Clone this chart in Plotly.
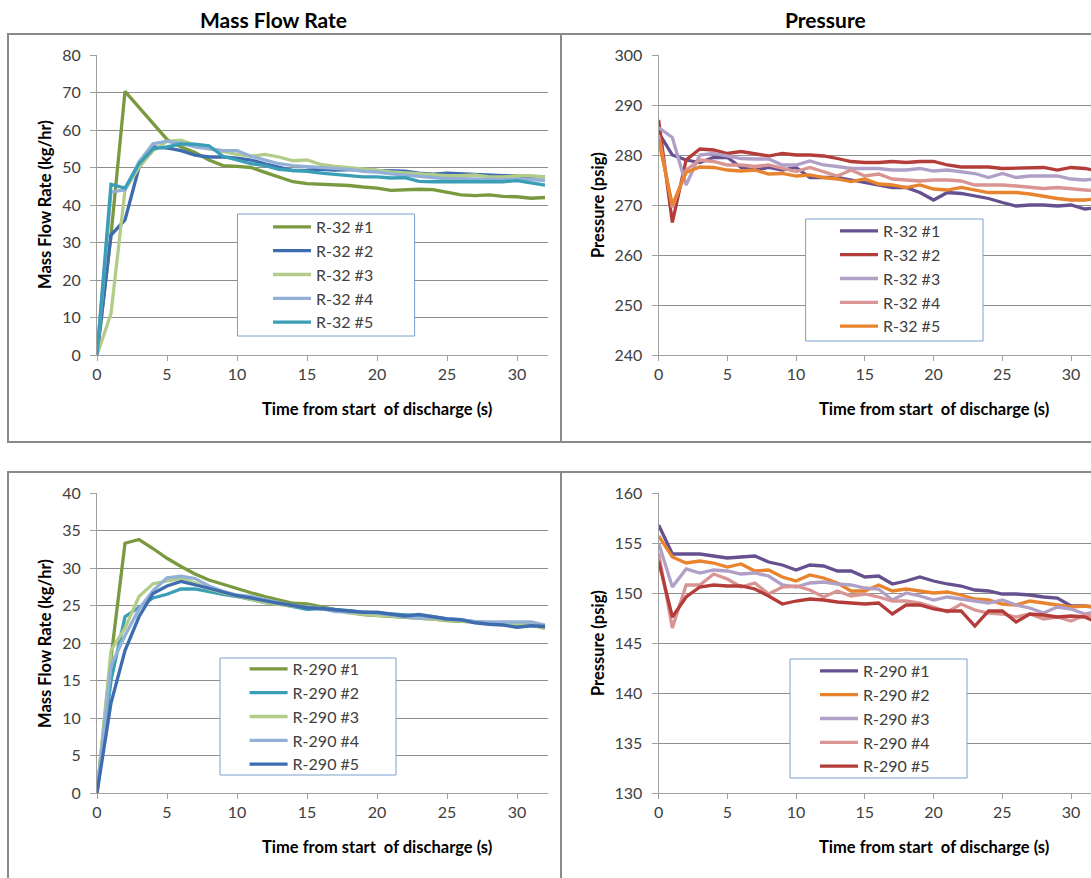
import plotly.graph_objects as go

W, H = 1091, 878

# ---------------- data ----------------
time_s = list(range(33))

# Mass flow rate, R-32 (kg/hr)
mf_r32_1 = [0, 32, 70.3, 66, 61.5, 57.5, 55.5, 54, 52, 50.5, 50.3, 50, 48.7, 47.5, 46.2, 45.7, 45.5,
            45.5, 45.2, 44.8, 44.5, 43.9, 44.1, 44.2, 44.1, 43.4, 42.7, 42.5, 42.7, 42.3, 42.2, 41.8, 42.0]
mf_r32_2 = [0, 32, 36, 50, 55.5, 55.2, 54.5, 53.3, 52.8, 52.8, 52.5, 52, 51, 50, 49.2, 49.3, 49.5,
            49.3, 49.3, 49.5, 49.2, 49, 49, 48.5, 48.2, 48.5, 48.3, 48, 47.8, 47.8, 47.8, 47.5, 47.5]
mf_r32_3 = [0, 11, 44, 50, 54.5, 57, 57.3, 56, 55, 54.2, 53.5, 53, 53.5, 52.8, 51.8, 52, 50.8,
            50.3, 50, 49.5, 49.3, 48.8, 48.5, 48.3, 48, 47.8, 47.8, 48, 47.5, 47.5, 47.8, 47.8, 47.5]
mf_r32_4 = [0, 43.5, 44, 51.5, 56.3, 57, 56.5, 55.5, 55, 54.5, 54.5, 53, 52, 51, 50.5, 50.3, 50,
            49.8, 49.5, 49, 48.8, 48.3, 48, 47.5, 47.2, 47, 47, 46.8, 46.8, 46.8, 46.8, 46.8, 46.5]
mf_r32_5 = [0, 45.5, 44.5, 51, 55, 55.5, 56.3, 56.2, 55.8, 53, 52, 51, 50.5, 49.5, 49.2, 49, 48.5,
            48.2, 48, 47.5, 47.5, 47.2, 47.3, 46.3, 46.2, 46.2, 46, 46, 46, 46.2, 46.5, 45.8, 45.3]

# Pressure, R-32 (psig)
p_r32_1 = [284.5, 280, 279, 278.5, 279.5, 279.5, 277.5, 277, 277.5, 277, 277.5, 275.5, 275.5, 275.5,
           275, 274.5, 274, 273.5, 273.5, 272.5, 271, 272.5, 272.3, 271.8, 271.3, 270.5, 269.8, 270,
           270, 269.8, 270, 269.2, 269.5]
p_r32_2 = [287, 266.5, 279, 281.2, 281, 280.3, 280.7, 280.3, 279.8, 280.3, 280, 280, 279.8, 279.3,
           278.7, 278.5, 278.5, 278.7, 278.5, 278.7, 278.7, 278, 277.6, 277.6, 277.6, 277.3, 277.4,
           277.5, 277.5, 277, 277.5, 277.3, 276.8]
p_r32_3 = [285.5, 283.5, 274, 280, 280.3, 279.8, 279.3, 279.2, 279.2, 278, 278, 278.8, 278, 277.7,
           277.3, 277.3, 277.3, 277, 277, 277.3, 276.8, 277, 276.7, 276.3, 275.5, 276.3, 275.5,
           275.8, 275.8, 275.8, 275.2, 275, 275.3]
p_r32_4 = [284, 269.5, 277, 279, 278.7, 278, 278, 277.7, 278, 277.3, 276.7, 277.5, 276.7, 275.8,
           277, 275.8, 276.2, 275.2, 275, 274.8, 275, 275, 274.8, 274, 274, 274, 273.8, 273.5,
           273.3, 273.5, 273.2, 273, 272.8]
p_r32_5 = [283, 270, 276.5, 277.6, 277.5, 277, 276.8, 277, 276.2, 276.3, 275.8, 276, 275.5, 275.2,
           274.7, 275.2, 274.2, 274, 273.5, 274, 273.2, 273, 273.5, 273, 272.5, 272.5, 272.5,
           272.2, 271.7, 271.3, 271, 271, 271.3]

# Mass flow rate, R-290 (kg/hr)
mf_r290_1 = [0, 18, 33.3, 33.8, 32.6, 31.3, 30.2, 29.2, 28.4, 27.8, 27.2, 26.7, 26.2, 25.7, 25.3,
             25.2, 24.8, 24.5, 24.1, 23.8, 23.7, 23.6, 23.5, 23.3, 23.2, 23.0, 22.9, 22.7, 22.6,
             22.5, 22.4, 22.4, 22.0]
mf_r290_2 = [0, 15, 23.5, 24.8, 26, 26.5, 27.2, 27.2, 26.8, 26.5, 26.2, 25.8, 25.4, 25.2, 24.8,
             24.5, 24.6, 24.5, 24.3, 24.1, 24.0, 23.8, 23.7, 23.6, 23.5, 23.2, 23.0, 22.8, 22.7,
             22.5, 22.5, 22.4, 22.3]
mf_r290_3 = [0, 19, 22, 26.2, 27.9, 28.2, 28.6, 28, 27.2, 26.7, 26.2, 25.8, 25.4, 25.1, 24.9,
             24.8, 24.6, 24.4, 24.0, 23.8, 23.7, 23.6, 23.4, 23.3, 23.2, 23.1, 23.0, 22.8, 22.6,
             22.5, 22.5, 22.4, 21.9]
mf_r290_4 = [0, 17, 21, 24.5, 27, 28.7, 28.9, 28.6, 27.6, 26.9, 26.4, 26.2, 25.8, 25.4, 25.0,
             24.8, 24.6, 24.2, 24.2, 24.1, 24.0, 23.7, 23.5, 23.3, 23.4, 23.2, 23.1, 22.8, 22.8,
             22.9, 22.8, 22.8, 22.4]
mf_r290_5 = [0, 12, 19, 23.5, 26.6, 27.6, 28.2, 27.8, 27.3, 26.8, 26.3, 26.0, 25.6, 25.3, 25.0,
             24.7, 24.6, 24.4, 24.2, 24.1, 24.1, 23.8, 23.6, 23.8, 23.5, 23.2, 23.1, 22.7, 22.5,
             22.4, 22.1, 22.3, 22.2]

# Pressure, R-290 (psig)
p_r290_1 = [156.8, 153.9, 153.9, 153.9, 153.7, 153.5, 153.6, 153.7, 153.1, 152.8, 152.3, 152.8,
            152.7, 152.2, 152.2, 151.6, 151.7, 150.9, 151.2, 151.6, 151.2, 150.9, 150.7, 150.3,
            150.2, 149.9, 149.9, 149.8, 149.6, 149.5, 148.7, 148.7, 148.5]
p_r290_2 = [155.7, 153.6, 153.0, 153.2, 153.0, 152.6, 152.9, 152.2, 152.3, 151.6, 151.2, 151.8,
            151.5, 151.0, 150.2, 150.2, 150.8, 150.2, 150.4, 150.2, 150.0, 150.1, 149.8, 149.4,
            149.3, 148.9, 148.8, 149.2, 149.0, 148.8, 148.6, 148.7, 148.6]
p_r290_3 = [155.0, 150.6, 152.4, 152.0, 152.3, 152.2, 151.9, 152.0, 151.7, 150.8, 150.6, 151.0,
            151.1, 150.9, 150.8, 150.5, 150.4, 149.3, 150.0, 149.7, 149.3, 149.6, 149.4, 149.2,
            149.0, 149.3, 148.8, 148.5, 148.0, 148.6, 148.4, 147.9, 148.2]
p_r290_4 = [154.0, 146.5, 150.8, 150.8, 151.9, 151.4, 150.6, 151.0, 149.9, 150.6, 150.7, 150.3,
            149.6, 150.2, 149.7, 149.9, 149.6, 149.2, 149.2, 149.0, 148.6, 148.1, 148.9, 148.3,
            148.0, 147.9, 147.6, 147.9, 147.4, 147.6, 147.2, 147.8, 147.6]
p_r290_5 = [153.2, 147.6, 149.6, 150.6, 150.8, 150.7, 150.7, 150.4, 149.7, 148.9, 149.2, 149.4,
            149.3, 149.1, 149.0, 148.9, 149.0, 147.9, 148.8, 148.8, 148.4, 148.2, 148.2, 146.7,
            148.2, 148.2, 147.1, 147.9, 147.8, 147.6, 147.7, 147.6, 147.0]

# tick values
mf_r32_ticks = [0, 10, 20, 30, 40, 50, 60, 70, 80]
p_r32_ticks = [240, 250, 260, 270, 280, 290, 300]
mf_r290_ticks = [0, 5, 10, 15, 20, 25, 30, 35, 40]
p_r290_ticks = [130, 135, 140, 145, 150, 155, 160]
time_ticks = [0, 5, 10, 15, 20, 25, 30]

# colours
GREEN = "#7A9A3F"
DKBLUE = "#3E6DAF"
LTGREEN = "#B4CC89"
LTBLUE = "#93B1D6"
TEAL = "#3A9EB6"
PURPLE = "#66508F"
RED = "#B43C39"
LAVENDER = "#B0A0C8"
SALMON = "#D99593"
ORANGE = "#E8832E"

FONT = "Lato"
TXT = "#404040"
GRID = "#8E8E8E"
AXLINE = "#A0A0A0"


def px(x):
    return x / W


def py(y):
    return 1 - y / H


fig = go.Figure()

panels = [
    ("x", "y", "legend", ["R-32 #1", "R-32 #2", "R-32 #3", "R-32 #4", "R-32 #5"],
     [mf_r32_1, mf_r32_2, mf_r32_3, mf_r32_4, mf_r32_5],
     [GREEN, DKBLUE, LTGREEN, LTBLUE, TEAL]),
    ("x2", "y2", "legend2", ["R-32 #1", "R-32 #2", "R-32 #3", "R-32 #4", "R-32 #5"],
     [p_r32_1, p_r32_2, p_r32_3, p_r32_4, p_r32_5],
     [PURPLE, RED, LAVENDER, SALMON, ORANGE]),
    ("x3", "y3", "legend3", ["R-290 #1", "R-290 #2", "R-290 #3", "R-290 #4", "R-290 #5"],
     [mf_r290_1, mf_r290_2, mf_r290_3, mf_r290_4, mf_r290_5],
     [GREEN, TEAL, LTGREEN, LTBLUE, DKBLUE]),
    ("x4", "y4", "legend4", ["R-290 #1", "R-290 #2", "R-290 #3", "R-290 #4", "R-290 #5"],
     [p_r290_1, p_r290_2, p_r290_3, p_r290_4, p_r290_5],
     [PURPLE, ORANGE, LAVENDER, SALMON, RED]),
]

for xa, ya, lg, names, series, cols in panels:
    for name, vals, col in zip(names, series, cols):
        fig.add_trace(go.Scatter(x=time_s, y=vals, name=name, mode="lines",
                                 line=dict(color=col, width=3.3),
                                 xaxis=xa, yaxis=ya, legend=lg))

# subplot geometry (pixels)
LEFT_X = (97, 548)
RIGHT_X = (658.6, 1091)
TOP_Y = (55, 355)
BOT_Y = (493, 793)


def xdom(a):
    return [px(a[0]), px(a[1])]


def ydom(a):
    return [py(a[1]), py(a[0])]


def xaxis_cfg(dom, rng, anchor):
    return dict(domain=dom, range=rng, anchor=anchor, tickvals=time_ticks,
                showgrid=False, zeroline=False, showline=True, linecolor=AXLINE,
                linewidth=1, ticks="outside", ticklen=5, tickcolor=AXLINE,
                automargin=False,
                tickfont=dict(family=FONT, size=16, color=TXT))


def yaxis_cfg(dom, rng, ticks, anchor):
    return dict(domain=dom, range=rng, anchor=anchor, tickvals=ticks,
                showgrid=True, gridcolor=GRID, gridwidth=1, zeroline=False,
                showline=True, linecolor=AXLINE, linewidth=1, ticks="outside",
                ticklen=6, tickcolor=AXLINE, ticklabelstandoff=6, automargin=False,
                tickfont=dict(family=FONT, size=16, color=TXT))


left_rng = [0, (LEFT_X[1] - LEFT_X[0]) / 14.0]
right_rng = [0, (RIGHT_X[1] - RIGHT_X[0]) / 13.75]

fig.update_layout(
    xaxis=xaxis_cfg(xdom(LEFT_X), left_rng, "y"),
    yaxis=yaxis_cfg(ydom(TOP_Y), [0, 80], mf_r32_ticks, "x"),
    xaxis2=xaxis_cfg(xdom(RIGHT_X), right_rng, "y2"),
    yaxis2=yaxis_cfg(ydom(TOP_Y), [240, 300], p_r32_ticks, "x2"),
    xaxis3=xaxis_cfg(xdom(LEFT_X), left_rng, "y3"),
    yaxis3=yaxis_cfg(ydom(BOT_Y), [0, 40], mf_r290_ticks, "x3"),
    xaxis4=xaxis_cfg(xdom(RIGHT_X), right_rng, "y4"),
    yaxis4=yaxis_cfg(ydom(BOT_Y), [130, 160], p_r290_ticks, "x4"),
)

# chart-area borders (left, top, bottom edges; right edges are cut off)
BORDER = dict(color="#8A8A8A", width=2)
shapes = []
for (x0, y0, y1) in [(8, 34, 442), (561, 34, 442), (8, 472, 900), (561, 472, 900)]:
    shapes.append(dict(type="path", xref="paper", yref="paper",
                       path=f"M {px(1200)},{py(y0)} L {px(x0)},{py(y0)} L {px(x0)},{py(y1)} L {px(1200)},{py(y1)}",
                       line=BORDER, layer="above"))

# legend boxes: (box x0, x1, y0, y1), sample start x, first item centre y
legend_boxes = {
    "legend": ((237.5, 414.6, 214, 336), 277, 227),
    "legend2": ((805.6, 983, 219, 341), 844, 231),
    "legend3": ((220, 396, 658, 775), 253.6, 669),
    "legend4": ((790, 967, 659, 778), 824, 671),
}
legend_layouts = {}
for key, ((bx0, bx1, by0, by1), sx, fy) in legend_boxes.items():
    shapes.append(dict(type="rect", xref="paper", yref="paper",
                       x0=px(bx0), x1=px(bx1), y0=py(by1), y1=py(by0),
                       fillcolor="white", line=dict(color="#7AA0D0", width=1), layer="above"))
    legend_layouts[key] = dict(x=px(sx - 9), y=py(fy - 17), xanchor="left", yanchor="top",
                               bgcolor="rgba(0,0,0,0)", borderwidth=0, itemwidth=38,
                               font=dict(family=FONT, size=16, color=TXT),
                               tracegroupgap=0)
fig.update_layout(shapes=shapes, **legend_layouts)

# titles
ann = []
TITLE_FONT = dict(family=FONT, size=21, color="black")
AX_FONT = dict(family=FONT, size=16.5, color="black")
ann.append(dict(text="<b>Mass Flow Rate</b>", x=px(273), y=py(20), font=TITLE_FONT))
ann.append(dict(text="<b>Pressure</b>", x=px(825), y=py(20), font=TITLE_FONT))
for (xc, yc) in [(377, 409), (934, 409), (377, 847), (934, 847)]:
    ann.append(dict(text="<b>Time from start\u00a0 of discharge (s)</b>", x=px(xc), y=py(yc), font=AX_FONT))
ann.append(dict(text="<b>Mass Flow Rate (kg/hr)</b>", x=px(45), y=py(205), textangle=-90, font=AX_FONT))
ann.append(dict(text="<b>Pressure (psig)</b>", x=px(598), y=py(205), textangle=-90, font=AX_FONT))
ann.append(dict(text="<b>Mass Flow Rate (kg/hr)</b>", x=px(45), y=py(644), textangle=-90, font=AX_FONT))
ann.append(dict(text="<b>Pressure (psig)</b>", x=px(598), y=py(643), textangle=-90, font=AX_FONT))
for a in ann:
    a.update(xref="paper", yref="paper", showarrow=False, xanchor="center", yanchor="middle")

fig.update_layout(
    annotations=ann,
    width=W, height=H, autosize=False,
    margin=dict(l=0, r=0, t=0, b=0, pad=0, autoexpand=False),
    paper_bgcolor="white", plot_bgcolor="white",
    showlegend=True,
    font=dict(family=FONT, color=TXT),
)

fig.write_html("out.html", config={"displayModeBar": False},
               post_script="document.body.style.margin='0';document.body.style.overflow='hidden';")
